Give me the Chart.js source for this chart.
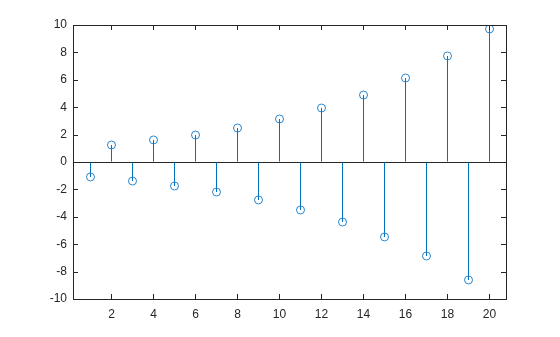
<!DOCTYPE html>
<html>
<head>
<meta charset="utf-8">
<script src="https://cdn.jsdelivr.net/npm/chart.js@4"></script>
<style>
  html, body { margin: 0; padding: 0; background: #fff; }
  #wrap { width: 560px; height: 337px; }
</style>
</head>
<body>
<div id="wrap"><canvas id="stemChart"></canvas></div>
<script>
// values
const xValues = [1, 2, 3, 4, 5, 6, 7, 8, 9, 10, 11, 12, 13, 14, 15, 16, 17, 18, 19, 20];
const yValues = [-1.09, 1.24, -1.39, 1.61, -1.75, 1.97, -2.19, 2.48, -2.77, 3.14,
                 -3.50, 3.94, -4.38, 4.89, -5.47, 6.13, -6.86, 7.74, -8.61, 9.71];
const xTicks = [2, 4, 6, 8, 10, 12, 14, 16, 18, 20];
const yTicks = [-10, -8, -6, -4, -2, 0, 2, 4, 6, 8, 10];
const xLimits = [0.166667, 20.785714];
const yLimits = [-10, 10];

const stemColor = '#0072bd';
const axisColor = '#262626';

// box around the axes plus inward tick marks on all four sides
const axesBox = {
    id: 'axesBox',
    afterDraw(chart) {
        const ctx = chart.ctx;
        const area = chart.chartArea;
        const xs = chart.scales.x;
        const ys = chart.scales.y;
        const len = 5;
        ctx.save();
        ctx.strokeStyle = axisColor;
        ctx.lineWidth = 1;
        ctx.beginPath();
        xTicks.forEach(v => {
            const px = Math.floor(xs.getPixelForValue(v)) + 0.5;
            ctx.moveTo(px, area.bottom);
            ctx.lineTo(px, area.bottom - len);
            ctx.moveTo(px, area.top);
            ctx.lineTo(px, area.top + len);
        });
        yTicks.forEach(v => {
            const py = Math.round(ys.getPixelForValue(v)) + 0.5;
            ctx.moveTo(area.left, py);
            ctx.lineTo(area.left + len, py);
            ctx.moveTo(area.right, py);
            ctx.lineTo(area.right - len, py);
        });
        ctx.stroke();
        ctx.strokeRect(Math.round(area.left) + 0.5, Math.round(area.top) + 0.5,
                       Math.round(area.right - area.left), Math.round(area.bottom - area.top));
        ctx.restore();
    }
};

const ctx = document.getElementById('stemChart').getContext('2d');
new Chart(ctx, {
    data: {
        datasets: [
            {
                type: 'scatter',
                data: xValues.map((x, i) => ({ x: x, y: yValues[i] })),
                borderColor: '#2a86cc',
                backgroundColor: 'rgba(0,0,0,0)',
                pointStyle: 'circle',
                pointRadius: 4,
                pointBorderWidth: 1,
                order: 0
            },
            {
                // stems as 1px floating bars from 0 to the value
                type: 'bar',
                data: xValues.map((x, i) => ({ x: x, y: [0, yValues[i]] })),
                backgroundColor: stemColor,
                borderWidth: 0,
                inflateAmount: 0,
                barThickness: 1,
                grouped: false,
                order: 1
            }
        ]
    },
    options: {
        responsive: true,
        maintainAspectRatio: false,
        animation: false,
        events: [],
        layout: { padding: { left: 0, top: 25, right: 54, bottom: 8 } },
        plugins: {
            legend: { display: false },
            tooltip: { enabled: false }
        },
        scales: {
            x: {
                type: 'linear',
                min: xLimits[0],
                max: xLimits[1],
                offset: false,
                afterBuildTicks: scale => { scale.ticks = xTicks.map(v => ({ value: v })); },
                afterFit: scale => { scale.height = 30; },
                grid: { display: false, drawTicks: false },
                border: { display: false },
                ticks: {
                    color: axisColor,
                    padding: 8,
                    maxRotation: 0,
                    font: { family: 'Liberation Sans, Arial, sans-serif', size: 12 }
                }
            },
            y: {
                type: 'linear',
                min: yLimits[0],
                max: yLimits[1],
                afterBuildTicks: scale => { scale.ticks = yTicks.map(v => ({ value: v })); },
                afterFit: scale => { scale.width = 73; },
                grid: {
                    drawTicks: false,
                    color: c => (c.tick && c.tick.value === 0 ? axisColor : 'rgba(0,0,0,0)'),
                    lineWidth: 1
                },
                border: { display: false },
                ticks: {
                    color: axisColor,
                    padding: 6,
                    font: { family: 'Liberation Sans, Arial, sans-serif', size: 12 }
                }
            }
        }
    },
    plugins: [axesBox]
});
</script>
</body>
</html>
